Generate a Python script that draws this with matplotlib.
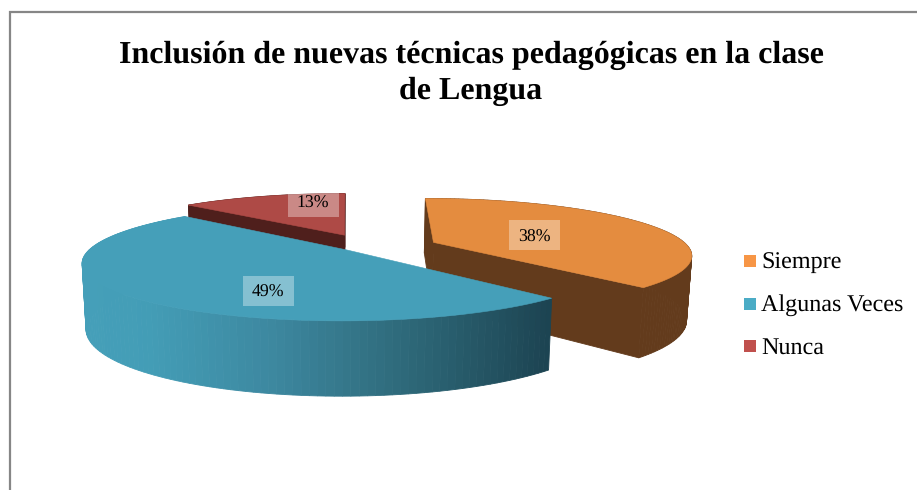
import numpy as np
import matplotlib
matplotlib.use('Agg')
import matplotlib.pyplot as plt
from matplotlib.patches import Polygon, Rectangle

plt.rcParams['font.family'] = ['Liberation Serif', 'DejaVu Serif']
plt.rcParams['text.hinting'] = 'none'

categories = ['Siempre', 'Algunas Veces', 'Nunca']
values = [38, 49, 13]
pct_labels = ['38%', '49%', '13%']
title = 'Inclusión de nuevas técnicas pedagógicas en la clase\nde Lengua'

top_colors = ['#E48C3F', '#459FB9', '#AE4A46']
side_colors = ['#633B1C', None, '#4F1F1C']
legend_colors = ['#F79646', '#4BACC6', '#C0504D']

# projection of the pie, in pixels
CX, CY = 347, 250
A, B = 258, 56
PERSP = 0.21
DEPTH = 64
explode = [(0.345, 0.14), (0.0, 0.0), (-0.01, 0.28)]
skew = [0.15, 0.08, 0.0]
label_pos = [(534, 235), (268, 291), (313, 202)]
label_base = [242, 297, 208]
legend_y = [261, 304, 346]
legend_base = [268.5, 311, 353.5]


def project_top(u, v):
    k = 1 + PERSP * v
    return CX + A * u / k, CY - B * v / k


def project_bottom(u, v):
    x, y = project_top(u * 0.985, v)
    return x, y + DEPTH / (1 + 0.15 * v)


def blue_shade(x):
    xs = [85, 150, 270, 390, 552]
    r = [0x45, 0x43, 0x3D, 0x30, 0x1C]
    g = [0x9F, 0x9D, 0x88, 0x6D, 0x43]
    b = [0xB9, 0xB6, 0xA0, 0x7E, 0x51]
    return (np.interp(x, xs, r) / 255, np.interp(x, xs, g) / 255, np.interp(x, xs, b) / 255)


fig = plt.figure(figsize=(9.17, 4.90), dpi=100)
ax = fig.add_axes([0, 0, 1, 1])
ax.set_xlim(0, 917)
ax.set_ylim(490, 0)
ax.axis('off')

# chart frame, cut off on the right and at the bottom
ax.plot([9.5, 9.5, 917], [490, 12, 12], color='#868686', lw=1.6, solid_joinstyle='miter')

fractions = np.cumsum([0] + values) / sum(values)

# orange and red first, the blue slice lies in front of them
for i in [0, 2, 1]:
    t = np.linspace(fractions[i], fractions[i + 1], 120) * 2 * np.pi
    du, dv = explode[i]
    u = np.concatenate([[du], du + np.sin(t), [du]])
    v = np.concatenate([[dv], dv + np.cos(t), [dv]])
    tx, ty = project_top(u, v)
    bx, by = project_bottom(u, v)
    # shear around the slice apex, the 3d view is slightly turned
    shift = skew[i] * (ty - ty[0])
    tx = tx - shift
    bx = bx - shift
    for j in range(len(u) - 1):
        quad = [(tx[j], ty[j]), (tx[j + 1], ty[j + 1]), (bx[j + 1], by[j + 1]), (bx[j], by[j])]
        if side_colors[i] is None:
            if j == 0 or j == len(u) - 2:
                continue
            c = blue_shade((tx[j] + tx[j + 1]) / 2)
        else:
            c = side_colors[i]
        ax.add_patch(Polygon(quad, closed=True, facecolor=c, edgecolor=c, lw=0.6))
    ax.add_patch(Polygon(np.column_stack([tx, ty]), closed=True, facecolor=top_colors[i],
                         edgecolor=top_colors[i], lw=0.4))

for lab, (x, y), base in zip(pct_labels, label_pos, label_base):
    ax.add_patch(Rectangle((x - 25.5, y - 15), 51, 30, facecolor='white', alpha=0.35, edgecolor='none'))
    ax.text(x, base, lab, fontsize=12.8, ha='center', va='baseline', color='black')

ax.text(471, 73.5, title, fontsize=23, fontweight='bold', ha='center', va='center',
        linespacing=1.3, color='black')

for name, c, y, base in zip(categories, legend_colors, legend_y, legend_base):
    ax.add_patch(Rectangle((744, y - 6), 12, 12, facecolor=c, edgecolor='none'))
    ax.text(761, base, name, fontsize=17.4, ha='left', va='baseline', color='black')

fig.savefig('out.png', dpi=100)
